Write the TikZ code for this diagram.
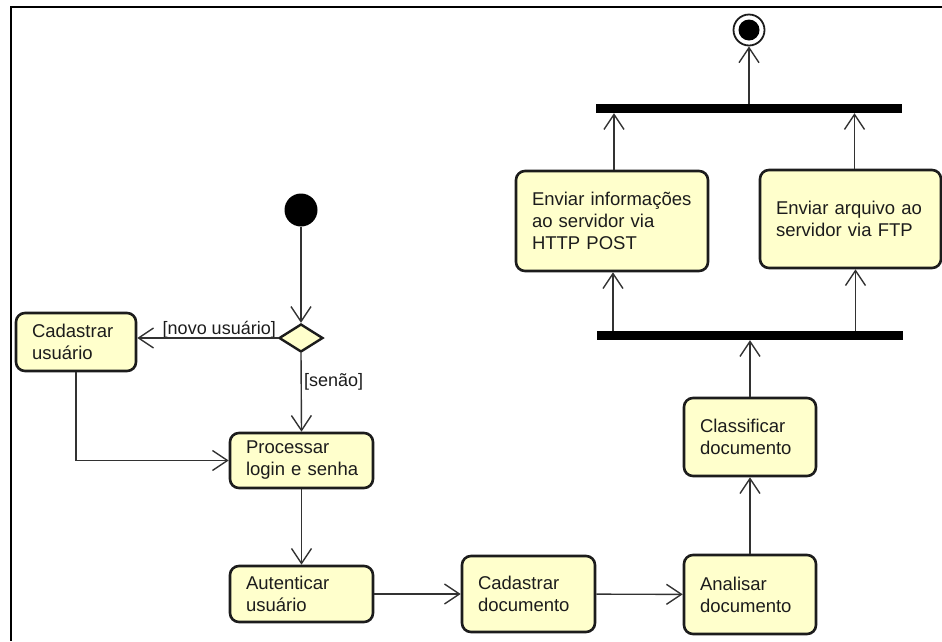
\documentclass[tikz,border=0pt]{standalone}
\usepackage{fontspec}
\setmainfont{Liberation Sans}
\usetikzlibrary{arrows.meta,shapes.geometric}
\definecolor{actfill}{RGB}{255,255,204}
\definecolor{ink}{RGB}{28,28,28}
\definecolor{wire}{RGB}{50,50,50}
\begin{document}
\begin{tikzpicture}[x=1pt,y=-1pt,
  act/.style={draw=ink, line width=2.6pt, fill=actfill, rounded corners=9pt,
    inner xsep=16pt, inner ysep=0pt, align=left, text=ink,
    font=\fontsize{18.5}{22}\selectfont},
  flow/.style={draw=wire, line width=1.4pt,
    -{Straight Barb[length=15pt,width=20pt,line width=1.4pt]}},
  bar/.style={fill=black, draw=none, inner sep=0pt, minimum height=9pt},
  guard/.style={text=ink, inner sep=0pt, font=\fontsize{18}{21}\selectfont}
]
\useasboundingbox (0,0) rectangle (942,641);

% frame
\draw[line width=2pt, black] (942,7) -- (11,7) -- (11,641);

% start and end
\node[circle, fill=black, minimum size=33pt, inner sep=0pt] (start) at (301,210) {};
\node[circle, draw=ink, line width=1.8pt, fill=white, minimum size=31pt, inner sep=0pt] (final) at (749,30) {};
\fill[black] (final.center) circle (10.5pt);

% decision
\node[diamond, draw=ink, line width=2.4pt, fill=actfill, minimum width=44pt,
      minimum height=28pt, inner sep=0pt] (dec) at (301,338) {};

% actions
\node[act, minimum width=120pt, minimum height=58pt, text width=88pt] (cadU) at (76,342) {Cadastrar\\usuário};
\node[act, minimum width=143pt, minimum height=55pt, text width=111pt] (proc) at (301.5,460.5) {Processar\\login~e~senha};
\node[act, minimum width=143pt, minimum height=56pt, text width=111pt] (aut) at (301.5,594) {Autenticar\\usuário};
\node[act, minimum width=133pt, minimum height=76pt, text width=101pt] (cadD) at (528.5,594) {Cadastrar\\documento};
\node[act, minimum width=132pt, minimum height=79pt, text width=100pt] (anal) at (750,594.5) {Analisar\\documento};
\node[act, minimum width=132pt, minimum height=78pt, text width=100pt] (class) at (750,437) {Classificar\\documento};
\node[act, minimum width=192pt, minimum height=100pt, text width=160pt] (http) at (612,221) {Enviar~informações\\ao~servidor~via\\HTTP~POST};
\node[act, minimum width=181pt, minimum height=98pt, text width=149pt] (ftp) at (850.5,219) {Enviar~arquivo~ao\\servidor~via~FTP};

% fork and join bars
\node[bar, minimum width=306pt] (joinTop) at (749,108.5) {};
\node[bar, minimum width=306pt] (forkBot) at (750,335.5) {};

% guards
\node[guard, anchor=base east] (gNovo) at (276,334) {[novo usuário]};
\node[guard, anchor=base west] (gSenao) at (304,386) {[senão]};

% control flow
\draw[flow] (start) -- (dec.north);
\draw[flow] (dec.west) -- (dec.west -| cadU.east);
\draw[flow] (dec.south) -- (proc.north);
\draw[flow] (cadU.south) |- (proc.west);
\draw[flow] (proc) -- (aut);
\draw[flow] (aut.east) -- (aut.east -| cadD.west);
\draw[flow] (cadD) -- (anal);
\draw[flow] (anal) -- (class);
\draw[flow] (class.north) -- (class.north |- forkBot.south);
\draw[flow] ([xshift=1pt]http.south |- forkBot.north) -- ([xshift=1pt]http.south);
\draw[flow] ([xshift=5pt]ftp.south |- forkBot.north) -- ([xshift=5pt]ftp.south);
\draw[flow] ([xshift=2pt]http.north) -- ([xshift=2pt]http.north |- joinTop.south);
\draw[flow] ([xshift=4pt]ftp.north) -- ([xshift=4pt]ftp.north |- joinTop.south);
\draw[flow] (joinTop.north -| final) -- (final.south);
\end{tikzpicture}
\end{document}
